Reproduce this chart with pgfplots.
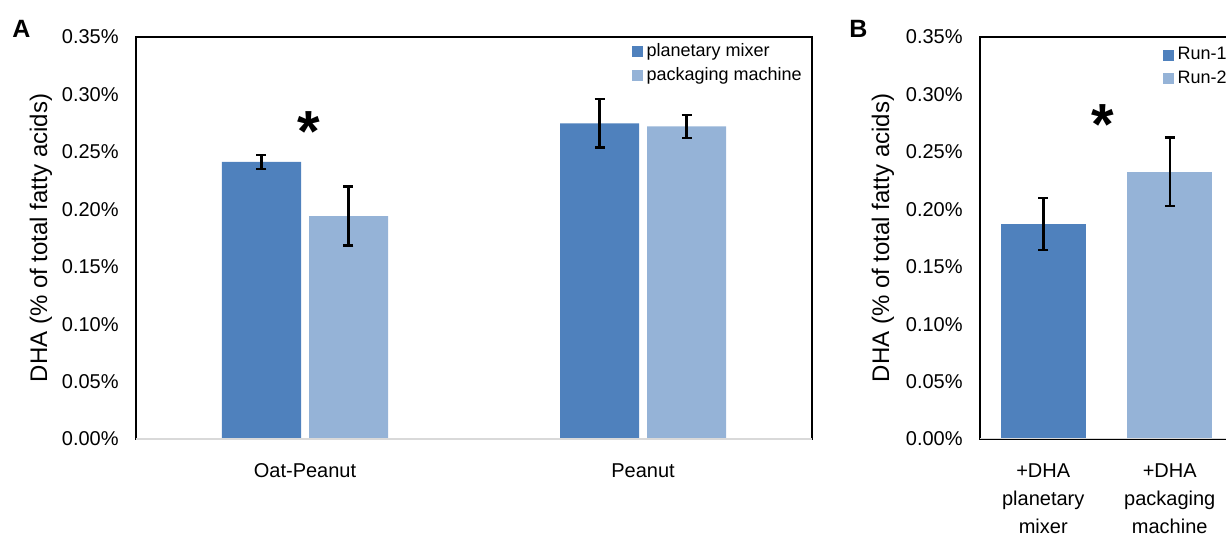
\documentclass[border=0pt]{standalone}
\usepackage{fontspec}
\setmainfont{Liberation Sans}
\usepackage{pgfplots}
\pgfplotsset{compat=1.18}
\definecolor{cdark}{HTML}{4F81BD}
\definecolor{clight}{HTML}{95B3D7}
\definecolor{axgray}{HTML}{D9D9D9}
\pgfplotsset{
  dhastyle/.style={
    scale only axis,
    height=201pt,
    ymin=0, ymax=0.35,
    ytick={0,0.05,0.1,0.15,0.2,0.25,0.3,0.35},
    yticklabel={\pgfmathprintnumber[assume math mode=true,fixed,fixed zerofill,precision=2]{\tick}\%},
    major tick length=0pt,
    tick style={draw=none},
    axis line style={line width=1pt, black},
    yticklabel style={font=\fontsize{10}{12}\selectfont, inner sep=0pt, xshift=-8.5pt},
    xticklabel style={font=\fontsize{10}{14}\selectfont, inner sep=0pt, yshift=-12pt, align=center},
    ylabel={DHA (\% of total fatty acids)},
    ylabel style={font=\fontsize{12}{14}\selectfont, anchor=center},
    xmin=-0.5, xmax=1.5, xtick={0,1},
    ybar,
    error bars/y dir=both, error bars/y explicit,
    error bars/error bar style={line width=1.25pt, black},
    error bars/error mark options={rotate=90, mark size=2.5pt, line width=1.25pt, black},
    legend style={draw=none, fill=none, font=\fontsize{9}{11}\selectfont,
      at={(rel axis cs:1,1)}, anchor=north east, inner sep=0pt,
      xshift=-3pt, yshift=-1pt, row sep=0pt},
    legend cell align=left,
    legend image code/.code={\fill[##1] (0pt,-2.75pt) rectangle (5.5pt,2.75pt);},
  }
}
\begin{document}
\begin{tikzpicture}
\useasboundingbox (0,0) rectangle (613pt,268pt);
\node[anchor=north west, inner sep=0pt, font=\bfseries\fontsize{12.5}{14}\selectfont] at (6pt,258pt) {A};
\node[anchor=north west, inner sep=0pt, font=\bfseries\fontsize{12.5}{14}\selectfont] at (424.5pt,258pt) {B};
\begin{axis}[dhastyle, at={(68pt,48.5pt)}, anchor=south west, width=338pt,
  xticklabels={Oat-Peanut, Peanut},
  ylabel style={at={(axis description cs:-0.1405,0.5)}},
  bar width=39.5pt]
\addplot[fill=cdark, draw=none, bar shift=-21.75pt] coordinates {(0,0.2412) +- (0,0.0060) (1,0.2749) +- (0,0.0210)};
\addplot[fill=clight, draw=none, bar shift=21.75pt] coordinates {(0,0.1940) +- (0,0.0257) (1,0.2722) +- (0,0.0100)};
\legend{planetary mixer, packaging machine}
\draw[axgray, line width=0.8pt] (rel axis cs:0,0) -- (rel axis cs:1,0);
\node[anchor=base, inner sep=0pt, font=\bfseries\fontsize{29}{29}\selectfont] at (axis cs:0.01,0.2500) {*};
\end{axis}
\begin{axis}[dhastyle, at={(490pt,48.5pt)}, anchor=south west, width=126.5pt,
  xticklabels={{+DHA\\planetary\\mixer}, {+DHA\\packaging\\machine}},
  ylabel style={at={(axis description cs:-0.3834,0.5)}},
  bar width=42.5pt, legend style={xshift=2pt, yshift=-2pt}]
\addplot[fill=cdark, draw=none, bar shift=0pt] coordinates {(0,0.1872) +- (0,0.0226)};
\addplot[fill=clight, draw=none, bar shift=0pt] coordinates {(1,0.2327) +- (0,0.0300)};
\legend{Run-1, Run-2}
\draw[axgray, line width=0.8pt] (rel axis cs:0,0) -- (rel axis cs:1,0);
\node[anchor=base, inner sep=0pt, font=\bfseries\fontsize{29}{29}\selectfont] at (axis cs:0.472,0.2566) {*};
\end{axis}
\end{tikzpicture}
\end{document}
